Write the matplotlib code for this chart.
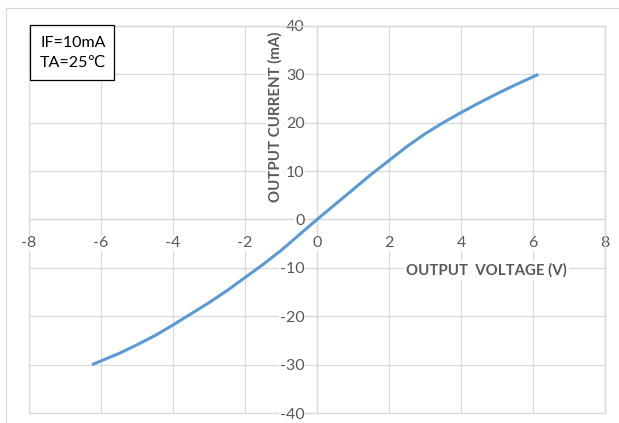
import matplotlib
matplotlib.use("Agg")
import matplotlib.pyplot as plt
from matplotlib.lines import Line2D

# Data
voltage = [-6.25, -5.5, -5.0, -4.5, -4.0, -3.5, -3.0, -2.5, -2.0, -1.5, -1.0, -0.5, 0.0,
           0.5, 1.0, 1.5, 2.0, 2.5, 3.0, 3.5, 4.0, 4.5, 5.0, 5.5, 6.15]
current = [-30.0, -27.7, -25.9, -24.0, -21.8, -19.5, -17.2, -14.7, -12.0, -9.3, -6.4, -3.2, 0.0,
           3.1, 6.2, 9.3, 12.2, 15.1, 17.7, 20.0, 22.1, 24.1, 26.0, 27.8, 30.0]
x_ticks = [-8, -6, -4, -2, 0, 2, 4, 6, 8]
y_ticks = [-40, -30, -20, -10, 0, 10, 20, 30, 40]
note_lines = ["IF=10mA", "TA=25℃"]
x_title = "OUTPUT  VOLTAGE (V)"
y_title = "OUTPUT CURRENT (mA)"

W, H = 619, 423
fam = ["Lato", "DejaVu Sans"]
plt.rcParams['font.family'] = fam
plt.rcParams['axes.unicode_minus'] = False
fig = plt.figure(figsize=(W / 100, H / 100), dpi=100)

# outer chart border (left and top visible)
fig.add_artist(Line2D([5.5 / W, 5.5 / W], [0, 1 - 8 / H], color="#d9d9d9", lw=0.9, transform=fig.transFigure))
fig.add_artist(Line2D([5.5 / W, 1], [1 - 8 / H, 1 - 8 / H], color="#d9d9d9", lw=0.9, transform=fig.transFigure))

ax = fig.add_axes([29 / W, 1 - 413 / H, (605 - 29) / W, (413 - 26) / H])
ax.set_xlim(x_ticks[0], x_ticks[-1])
ax.set_ylim(y_ticks[0], y_ticks[-1])
ax.set_xticks(x_ticks)
ax.set_yticks(y_ticks)
grid_col = "#d9d9d9"
for s in ax.spines.values():
    s.set_color(grid_col)
    s.set_linewidth(0.9)
ax.spines['left'].set_position('zero')
ax.spines['bottom'].set_position('zero')
ax.spines['left'].set_zorder(0.5)
ax.spines['bottom'].set_zorder(0.5)
ax.grid(True, color=grid_col, lw=0.9, zorder=0)
ax.set_axisbelow(True)
ax.tick_params(length=0, labelsize=11.5, labelcolor="#595959")
ax.tick_params(axis='x', pad=12)
ax.tick_params(axis='y', pad=9)
for lab in ax.get_xticklabels() + ax.get_yticklabels():
    lab.set_bbox(dict(facecolor="white", edgecolor="none", pad=0.5))
    lab.set_zorder(3)

# right/top box edges drawn as lines (spines moved to zero)
for xv in (x_ticks[0], x_ticks[-1]):
    ax.axvline(xv, color=grid_col, lw=0.9, clip_on=False, zorder=0.4)
for yv in (y_ticks[0], y_ticks[-1]):
    ax.axhline(yv, color=grid_col, lw=0.9, clip_on=False, zorder=0.4)

ax.plot(voltage, current, color="#5b9bd5", lw=2.2, solid_capstyle="butt",
        solid_joinstyle="round", zorder=4)

# axis titles
ax.text(486.5 / W, 1 - 270.5 / H, x_title, transform=fig.transFigure, ha="center", va="center",
        fontsize=10.8, fontweight="bold", color="#595959", zorder=5,
        bbox=dict(facecolor="white", edgecolor="none", pad=1.5))
ax.text(275 / W, 1 - 117 / H, y_title, transform=fig.transFigure, rotation=90, ha="center", va="center",
        fontsize=10.8, fontweight="bold", color="#595959", zorder=5,
        bbox=dict(facecolor="white", edgecolor="none", pad=1.5))

# note box
fig.add_artist(plt.Rectangle((29.5 / W, 1 - 80 / H), 85 / W, 55 / H, transform=fig.transFigure,
                             facecolor="white", edgecolor="black", lw=0.9, zorder=6))
fig.text(40 / W, 1 - 43 / H, note_lines[0], ha="left", va="center", fontsize=11.5, color="black", zorder=7)
fig.text(40 / W, 1 - 63 / H, note_lines[1], ha="left", va="center", fontsize=11.5, color="black", zorder=7)

fig.savefig("out.png", dpi=100)
